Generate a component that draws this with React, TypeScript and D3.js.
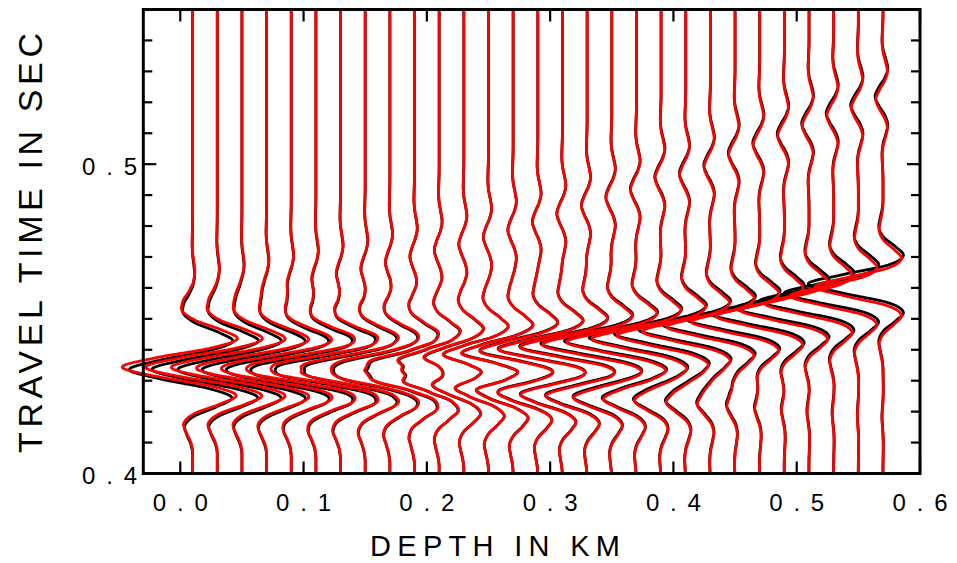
import React from "react";
import * as d3 from "d3";

// ---- data ----
const DEPTHS = [0.01, 0.03, 0.05, 0.07, 0.09, 0.11, 0.13, 0.15, 0.17, 0.19, 0.21, 0.23, 0.25, 0.27, 0.29,
  0.31, 0.33, 0.35, 0.37, 0.39, 0.41, 0.43, 0.45, 0.47, 0.49, 0.51, 0.53, 0.55, 0.57];

// downgoing arrival (trough) time, s
const DOWN_TIME = [0.4344, 0.4346, 0.4348, 0.4349, 0.4351, 0.4354, 0.4357, 0.4361, 0.4364, 0.4367, 0.4372,
  0.4377, 0.4382, 0.4386, 0.4393, 0.4399, 0.4407, 0.4416, 0.4425, 0.4435, 0.4446, 0.4459, 0.4474, 0.4490,
  0.4508, 0.4527, 0.4548, 0.4574, 0.4603];
// downgoing trough amplitude, km of deflection
const DOWN_AMP = [0.0284, 0.0292, 0.0292, 0.0300, 0.0316, 0.0341, 0.0373, 0.0406, 0.0438, 0.0462, 0.0487,
  0.0503, 0.0519, 0.0527, 0.0535, 0.0543, 0.0543, 0.0552, 0.0552, 0.0552, 0.0552, 0.0552, 0.0552, 0.0552,
  0.0552, 0.0552, 0.0552, 0.0552, 0.0552];

// upgoing arrival (trough) time, s
const UP_TIME = [0.4344, 0.4341, 0.4338, 0.4333, 0.4328, 0.4323, 0.4319, 0.4312, 0.4306, 0.4299, 0.4293,
  0.4286, 0.4280, 0.4273, 0.4267, 0.4260, 0.4254, 0.4247, 0.4241, 0.4234, 0.4228, 0.4221, 0.4215, 0.4209,
  0.4202, 0.4196, 0.4189, 0.4183, 0.4176];
const UP_AMP = [0.0284, 0.0292, 0.0292, 0.0300, 0.0316, 0.0341, 0.0373, 0.0406, 0.0430, 0.0446, 0.0454,
  0.0454, 0.0446, 0.0430, 0.0406, 0.0373, 0.0333, 0.0284, 0.0235, 0.0187, 0.0138, 0.0097, 0.0065, 0.0041,
  0.0024, 0.0016, 0.0012, 0.0008, 0.0008];

// relative size of the flanking lobes for each trace
const SIDE_RATIO = [0.62, 0.62, 0.61, 0.6, 0.58, 0.56, 0.53, 0.5, 0.47, 0.44, 0.41, 0.39, 0.37, 0.35, 0.33,
  0.32, 0.31, 0.3, 0.3, 0.29, 0.29, 0.28, 0.28, 0.28, 0.27, 0.27, 0.27, 0.27, 0.27];

// weak later downgoing event
const LATE_TIME = [0.4561, 0.4574, 0.4587, 0.4600, 0.4616, 0.4632, 0.4648, 0.4664, 0.4684, 0.4703, 0.4723,
  0.4742, 0.4765, 0.4787, 0.4813, 0.4839, 0.4865, 0.4891, 0.4917, 0.4955, 0.4965, 0.4991, 0.5030, 0.5062,
  0.5091, 0.5124, 0.5156, 0.5182, 0.5209];
const LATE_AMP = [0.0030, 0.0030, 0.0031, 0.0032, 0.0033, 0.0034, 0.0035, 0.0036, 0.0037, 0.0038, 0.0040,
  0.0041, 0.0042, 0.0043, 0.0044, 0.0045, 0.0046, 0.0047, 0.0048, 0.0049, 0.0050, 0.0051, 0.0052, 0.0053,
  0.0054, 0.0055, 0.0056, 0.0057, 0.0058];

// black (second) trace set: gain and time shift relative to red
const BLACK_GAIN = [0.9, 0.91, 0.91, 0.92, 0.93, 0.94, 0.94, 0.95, 0.96, 0.96, 0.97, 0.98, 0.99, 0.99, 1.0,
  1.01, 1.01, 1.02, 1.03, 1.04, 1.04, 1.05, 1.06, 1.06, 1.07, 1.08, 1.09, 1.09, 1.1];
const BLACK_SHIFT = [-0.0008, -0.0007, -0.0007, -0.0006, -0.0005, -0.0005, -0.0004, -0.0003, -0.0003,
  -0.0002, -0.0001, -0.0001, 0, 0.0001, 0.0002, 0.0002, 0.0003, 0.0004, 0.0004, 0.0005, 0.0006, 0.0006,
  0.0007, 0.0007, 0.0008, 0.0008, 0.0009, 0.0009, 0.001];

// wavelet pieces, sampled at lags in s: central trough and flanking lobes
const WAVELET_LAG = [-0.027, -0.024, -0.021, -0.018, -0.015, -0.012, -0.009, -0.006, -0.003, 0, 0.003, 0.006,
  0.009, 0.012, 0.015, 0.018, 0.021, 0.024, 0.027];
const TROUGH_SHAPE = [0, 0, 0, 0, 0, 0, 0, -0.08, -0.55, -1, -0.55, -0.08, 0, 0, 0, 0, 0, 0, 0];
const FLANK_SHAPE = [0, -0.05, -0.15, -0.2, 0.05, 0.62, 1, 0.5, 0.05, 0, 0.05, 0.5, 1, 0.62, 0.05, -0.2,
  -0.15, -0.05, 0];

const X_TICKS = [0, 0.1, 0.2, 0.3, 0.4, 0.5, 0.6];
const X_TICK_LABELS = ["0.0", "0.1", "0.2", "0.3", "0.4", "0.5", "0.6"];
const Y_MAJOR = [0.4, 0.5];
const Y_MAJOR_LABELS = ["0.4", "0.5"];
const Y_MINOR = [0.41, 0.42, 0.43, 0.44, 0.45, 0.46, 0.47, 0.48, 0.49, 0.51, 0.52, 0.53, 0.54];

const X_TITLE = "DEPTH IN KM";
const Y_TITLE = "TRAVEL TIME IN SEC";

// ---- helpers ----
function sampleAt(shape: number[], tau: number): number {
  const step = WAVELET_LAG[1] - WAVELET_LAG[0];
  const n = shape.length;
  const u = (tau - WAVELET_LAG[0]) / step;
  if (u <= 0 || u >= n - 1) return 0;
  const i = Math.floor(u);
  const f = u - i;
  const p0 = shape[Math.max(i - 1, 0)];
  const p1 = shape[i];
  const p2 = shape[i + 1];
  const p3 = shape[Math.min(i + 2, n - 1)];
  const f2 = f * f, f3 = f2 * f;
  return 0.5 * (2 * p1 + (-p0 + p2) * f + (2 * p0 - 5 * p1 + 4 * p2 - p3) * f2 + (-p0 + 3 * p1 - 3 * p2 + p3) * f3);
}
function wavelet(tau: number, side: number): number {
  return sampleAt(TROUGH_SHAPE, tau) + side * sampleAt(FLANK_SHAPE, tau);
}

const W = 957, H = 563;
const x = d3.scaleLinear().domain([-0.03, 0.6]).range([143.3, 920]);
const y = d3.scaleLinear().domain([0.4, 0.55]).range([473.5, 9.5]);

function tracePath(k: number, gain: number, shift: number): string {
  const times = d3.range(0.4, 0.5501, 0.0002);
  const r = SIDE_RATIO[k];
  const pts = times.map((t) => {
    const v =
      DOWN_AMP[k] * wavelet(t - DOWN_TIME[k] - shift, r) +
      UP_AMP[k] * wavelet(t - UP_TIME[k] - shift, r) +
      LATE_AMP[k] * wavelet(t - LATE_TIME[k] - shift, 0.6);
    return [DEPTHS[k] + gain * v, t] as [number, number];
  });
  return d3.line<[number, number]>().x((d) => x(d[0])).y((d) => y(d[1]))(pts) || "";
}

export default function App() {
  const font = "'Liberation Sans', Arial, Helvetica, sans-serif";
  const [x0, x1] = x.range();
  const [yb, yt] = y.range();
  return (
    <svg width={W} height={H} style={{ display: "block", position: "absolute", left: 0, top: 0, background: "#fff" }}>
      <rect x={0} y={0} width={W} height={H} fill="#fff" />
      <g fill="none" strokeWidth={2.8} strokeLinejoin="round">
        {DEPTHS.map((_, k) => (
          <path key={"b" + k} d={tracePath(k, BLACK_GAIN[k], BLACK_SHIFT[k])} stroke="#000" />
        ))}
        {DEPTHS.map((_, k) => (
          <path key={"r" + k} d={tracePath(k, 1, 0)} stroke="#ff0000" />
        ))}
      </g>
      {/* frame */}
      <rect x={x0} y={yt} width={x1 - x0} height={yb - yt} fill="none" stroke="#000" strokeWidth={3} />
      <g stroke="#000" strokeWidth={2.2}>
        {X_TICKS.map((v) => (
          <g key={"xt" + v}>
            <line x1={x(v)} x2={x(v)} y1={yb} y2={yb - 12} />
            <line x1={x(v)} x2={x(v)} y1={yt} y2={yt + 12} />
          </g>
        ))}
        {Y_MAJOR.map((v) => (
          <g key={"ym" + v}>
            <line x1={x0} x2={x0 + 13} y1={y(v)} y2={y(v)} />
            <line x1={x1} x2={x1 - 13} y1={y(v)} y2={y(v)} />
          </g>
        ))}
        {Y_MINOR.map((v) => (
          <g key={"yn" + v}>
            <line x1={x0} x2={x0 + 9} y1={y(v)} y2={y(v)} />
            <line x1={x1} x2={x1 - 9} y1={y(v)} y2={y(v)} />
          </g>
        ))}
      </g>
      <g fontFamily={font} fontSize={24} fill="#000">
        {X_TICKS.map((v, i) => (
          <text key={"xl" + v} x={x(v)} y={511} textAnchor="middle" textLength={55} lengthAdjust="spacing">
            {X_TICK_LABELS[i]}
          </text>
        ))}
        {Y_MAJOR.map((v, i) => (
          <text key={"yl" + v} x={137} y={y(v) + 10.5} textAnchor="end" textLength={55} lengthAdjust="spacing">
            {Y_MAJOR_LABELS[i]}
          </text>
        ))}
      </g>
      <text x={495} y={556} textAnchor="middle" fontFamily={font} fontSize={29} textLength={250} lengthAdjust="spacing">
        {X_TITLE}
      </text>
      <text
        transform={`translate(42,243) rotate(-90)`}
        textAnchor="middle"
        fontFamily={font}
        fontSize={34}
        textLength={420}
        lengthAdjust="spacing"
      >
        {Y_TITLE}
      </text>
    </svg>
  );
}
